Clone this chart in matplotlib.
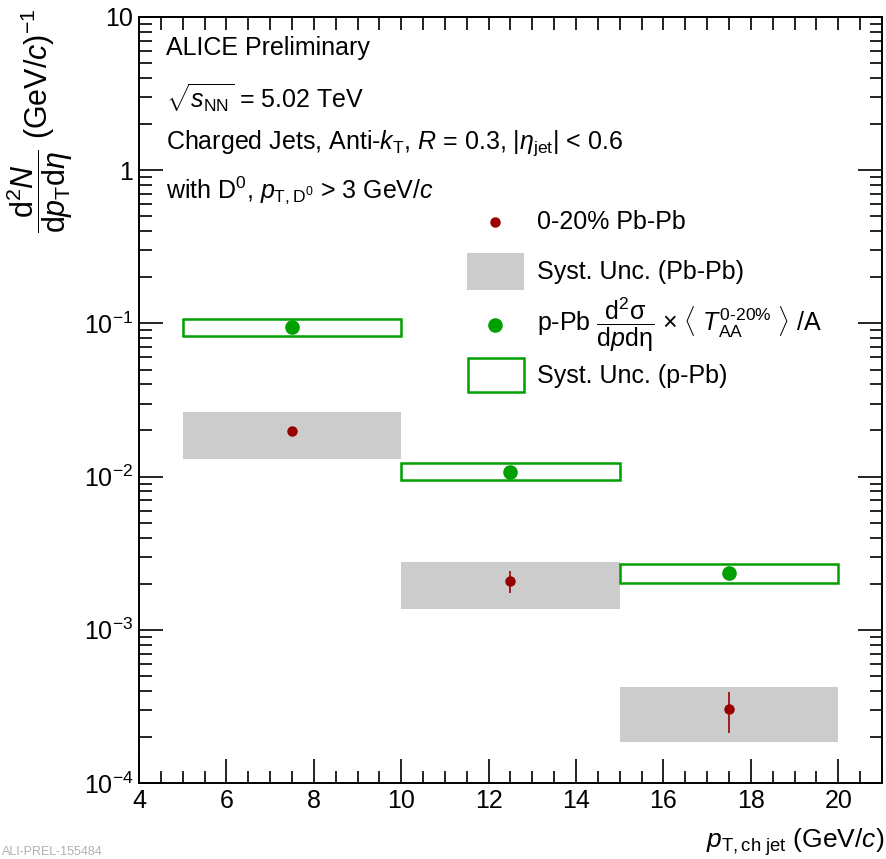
import matplotlib
matplotlib.use("Agg")
import matplotlib.pyplot as plt
from matplotlib.lines import Line2D
from matplotlib.patches import Rectangle
from matplotlib.ticker import MultipleLocator, LogLocator, NullFormatter

plt.rcParams['font.family'] = ['Liberation Sans', 'DejaVu Sans']
plt.rcParams['mathtext.fontset'] = 'custom'
plt.rcParams['mathtext.rm'] = 'Liberation Sans'
plt.rcParams['mathtext.it'] = 'Liberation Sans:italic'
plt.rcParams['mathtext.bf'] = 'Liberation Sans:bold'

# jet pT bins
bin_lo = [5, 10, 15]
bin_hi = [10, 15, 20]
bin_mid = [7.5, 12.5, 17.5]

# 0-20% Pb-Pb
pbpb_y = [0.0197, 0.00207, 0.000304]
pbpb_stat_lo = [0.0193, 0.00173, 0.000211]
pbpb_stat_hi = [0.0201, 0.00242, 0.000394]
pbpb_sys_lo = [0.0130, 0.00137, 0.000186]
pbpb_sys_hi = [0.0263, 0.00277, 0.000423]

# p-Pb scaled by <TAA>/A
ppb_y = [0.0947, 0.01077, 0.00236]
ppb_sys_lo = [0.0831, 0.00946, 0.00202]
ppb_sys_hi = [0.1069, 0.01221, 0.00270]

RED = '#990000'
GREEN = '#00a000'
GRAY = '#cccccc'

W, H = 886, 859
fig = plt.figure(figsize=(W / 100, H / 100), dpi=100)
ax = fig.add_axes([139 / W, 1 - 783 / H, (882 - 139) / W, (783 - 17) / H])


def fx(px):
    return px / W


def fy(py):
    return 1 - py / H


ax.set_yscale('log')
ax.set_xlim(4, 21)
ax.set_ylim(1e-4, 10)

# systematic boxes
widths = [h - l for l, h in zip(bin_lo, bin_hi)]
ax.bar(bin_lo, [h - l for l, h in zip(pbpb_sys_lo, pbpb_sys_hi)], width=widths,
       bottom=pbpb_sys_lo, align='edge', color=GRAY, edgecolor='none', zorder=1)
ax.bar(bin_lo, [h - l for l, h in zip(ppb_sys_lo, ppb_sys_hi)], width=widths,
       bottom=ppb_sys_lo, align='edge', facecolor='none', edgecolor=GREEN,
       linewidth=1.8, zorder=2)

# points
yerr = [[y - l for y, l in zip(pbpb_y, pbpb_stat_lo)],
        [h - y for y, h in zip(pbpb_y, pbpb_stat_hi)]]
ax.errorbar(bin_mid, pbpb_y, yerr=yerr, fmt='o', color=RED, ms=6.5,
            elinewidth=1.2, capsize=0, zorder=4)
ax.plot(bin_mid, ppb_y, 'o', color=GREEN, ms=9.5, zorder=4)

# axes style (ROOT-like)
for s in ax.spines.values():
    s.set_linewidth(1.4)
ax.xaxis.set_major_locator(MultipleLocator(2))
ax.xaxis.set_minor_locator(MultipleLocator(0.5))
ax.yaxis.set_major_locator(LogLocator(base=10, numticks=10))
ax.yaxis.set_minor_locator(LogLocator(base=10, subs=range(2, 10), numticks=20))
ax.yaxis.set_minor_formatter(NullFormatter())
ax.tick_params(which='both', direction='in', top=False, right=True, width=1.2,
               labelsize=18, colors='black')
ax.tick_params(which='major', length=17, pad=4)
ax.tick_params(which='minor', length=9)
ax.set_yticks([1e-4, 1e-3, 1e-2, 1e-1, 1, 10])
ax.set_yticklabels([r'$10^{-4}$', r'$10^{-3}$', r'$10^{-2}$', r'$10^{-1}$', '1', '10'])

# top axis: short uniform ticks, no labels
top = ax.secondary_xaxis('top')
top.xaxis.set_major_locator(MultipleLocator(0.5))
top.tick_params(which='both', direction='in', length=9, width=1.2, labeltop=False)
top.spines['top'].set_linewidth(1.4)

# axis titles
fig.text(fx(884), fy(858), r'$p_{\mathrm{T,ch\ jet}}$ (GeV/$c$)', ha='right', va='bottom',
         fontsize=19)
fig.text(fx(40), fy(8),
         r'$\dfrac{\mathrm{d}^2N}{\mathrm{d}p_{\mathrm{T}}\mathrm{d}\eta}$ (GeV/$c$)$^{-1}$',
         rotation=90, ha='center', va='top', fontsize=22)

# header text
x0 = fx(166)
fig.text(x0, fy(48), 'ALICE Preliminary', va='center', fontsize=18)
fig.text(x0, fy(98), r'$\sqrt{s_{\mathrm{NN}}}$ = 5.02 TeV', va='center', fontsize=18)
fig.text(x0, fy(143), r'Charged Jets, Anti-$k_{\mathrm{T}}$, $R$ = 0.3, $|\eta_{\mathrm{jet}}|$ < 0.6',
         va='center', fontsize=18)
fig.text(x0, fy(190), r'with D$^{0}$, $p_{\mathrm{T,D^{0}}}$ > 3 GeV/$c$', va='center', fontsize=18)

# legend drawn by hand
lx = fx(537)
fig.add_artist(Line2D([fx(495)], [fy(222)], marker='o', color=RED, ms=6.5,
                      transform=fig.transFigure))
fig.text(lx, fy(222), '0-20% Pb-Pb', va='center', fontsize=18)
fig.add_artist(Rectangle((fx(467), fy(290)), fx(524) - fx(467), fy(253) - fy(290),
                         transform=fig.transFigure, color=GRAY, ec='none'))
fig.text(lx, fy(272), 'Syst. Unc. (Pb-Pb)', va='center', fontsize=18)
fig.add_artist(Line2D([fx(495)], [fy(325)], marker='o', color=GREEN, ms=9.5,
                      transform=fig.transFigure))
fig.text(lx, fy(325),
         r'p-Pb $\dfrac{\mathrm{d}^2\mathrm{\sigma}}{\mathrm{d}p\mathrm{d\eta}}$ $\times$ $\langle$ $T_{\mathrm{AA}}^{\mathrm{0\text{-}20\%}}$ $\rangle$ /A',
         va='center', fontsize=18)
fig.add_artist(Rectangle((fx(468), fy(392)), fx(524) - fx(468), fy(358) - fy(392),
                         transform=fig.transFigure, fc='white', ec=GREEN, lw=1.8))
fig.text(lx, fy(376), 'Syst. Unc. (p-Pb)', va='center', fontsize=18)

# preliminary id at the bottom edge
fig.text(fx(2), fy(858), 'ALI-PREL-155484', va='bottom', fontsize=9, color='#b0b0b0')

fig.savefig('out.png', dpi=100)
